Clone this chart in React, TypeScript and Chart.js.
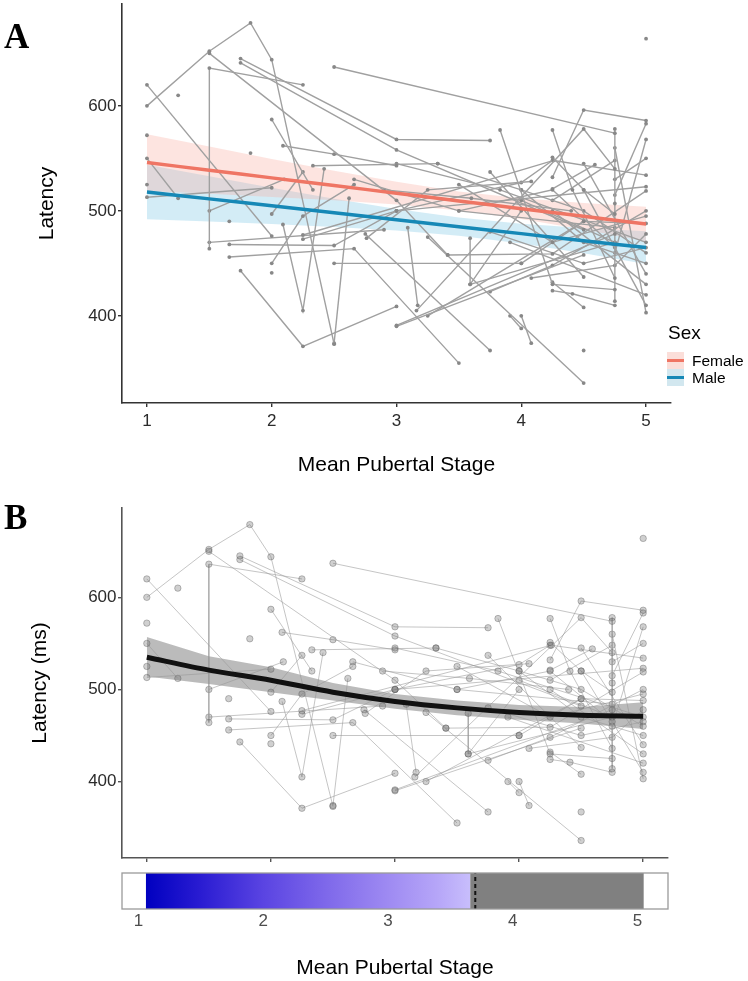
import React, { useEffect, useRef } from "react";
import { Chart, registerables } from "chart.js";

Chart.register(...registerables);

const FONT = "'Liberation Sans', Arial, Helvetica, sans-serif";

// ---- subject trajectories (stage, latency) ----
const subjectStages: number[][] = [
  [1, 2], [1, 1.5, 1.83, 2, 2.5], [2.25, 1.5, 1.5], [1.5, 3, 3.41], [1.75, 3, 3.75],
  [1.75, 3, 4.5], [2.5, 4.75], [4.25, 4.5, 5], [2, 2.33], [2.09, 2.5, 3],
  [1, 2], [1.25], [1.83], [2.33, 3.33], [1],
  [1, 1.25], [1], [1.66], [1.66, 2.5, 3], [1.66, 2.66, 3.5],
  [1.75, 2.25, 3], [2, 2.25], [2, 2.25, 2.66], [2], [2.09, 2.25, 2.42],
  [2.5, 2.62], [2.5, 4], [2.76, 3.25, 4.08], [3, 4.75], [3, 4.5],
  [3.16, 4.5, 4.75], [3.59, 3.59, 4], [3.5, 4.25, 5], [3.83, 4.25, 4.75], [3.75, 4.5],
  [4, 4.5, 5], [4.25, 4.41, 4.75], [4.59, 4.25], [4.25, 4.5, 4.75], [4.75, 4.75, 4.75],
  [5, 4.75], [5, 4.75], [4.25, 4.41, 4.75], [3.25, 4.5], [2.75, 3.75],
  [4, 4.08], [3.91, 4], [3.09, 3.17], [4.5, 4.25], [4.5],
  [5], [2.25, 4.26, 5], [2.25, 3, 5], [3.41, 4.25, 5], [3.75, 4.25, 5],
  [4, 4.5, 5], [4.08, 4.75, 5], [3.59, 4.75], [3, 3.83, 5], [3.33, 4, 4.5, 5],
  [2.66, 3.5, 4.75], [4.5, 5], [4.25, 5], [3.91, 5], [4.5, 5],
  [4.75, 5], [4.75, 4.25], [5, 4.75], [1.5, 2.1], [1.5, 2.9],
  [3, 4, 4.25], [3.5, 4.25, 4.75], [3.25, 4.5], [2.9, 3.6, 4.4], [4, 4.75],
  [3.75, 4.5, 5],
];
const subjectLatencies: number[][] = [
  [620, 476], [600, 652, 679, 644, 373], [620, 636, 464], [650, 510, 458], [645, 568, 567],
  [641, 558, 482], [637, 574], [532, 596, 586], [587, 520], [562, 554, 543],
  [513, 522], [610], [555], [543, 545], [572],
  [550, 512], [525], [490], [468, 467, 500], [456, 464, 355],
  [443, 371, 409], [497, 537], [450, 495, 525], [441], [487, 405, 540],
  [374, 512], [450, 450], [474, 520, 528], [391, 478], [390, 458],
  [405, 578, 540], [474, 430, 500], [525, 470, 495], [577, 430, 425], [537, 437],
  [520, 470, 450], [577, 520, 436], [544, 521], [551, 520, 497], [578, 507, 414],
  [568, 460], [550, 530], [424, 421, 410], [475, 336], [478, 367],
  [400, 374], [400, 388], [484, 410], [408, 432], [367],
  [664], [477, 548, 534], [473, 500, 523], [458, 459, 519], [423, 448, 500],
  [450, 490, 488], [436, 448, 478], [430, 470], [545, 520, 470], [545, 520, 500, 460],
  [530, 500, 484], [545, 440], [500, 430], [470, 420], [520, 410],
  [560, 403], [548, 510], [583, 515], [500, 530], [470, 482],
  [500, 527, 548], [500, 520, 465], [400, 490], [520, 512, 500], [510, 470],
  [480, 450, 465],
];

// ---- axes ----
const stageTicks = [1, 2, 3, 4, 5];
const latencyTicks = [400, 500, 600];
const stageRange = [0.8, 5.2];
const latencyRange = [317, 697];
const stripRange = [0.868, 5.245];

// ---- model fits ----
const fitStages = [1, 1.5, 2, 2.5, 3, 3.5, 4, 4.5, 5];
const femaleFit = [546, 538.7, 531.4, 524.1, 516.8, 509.4, 502.1, 494.8, 487.5];
const femaleUpper = [573, 561.2, 549.5, 538.1, 527.6, 518.5, 511.9, 507.4, 503.9];
const femaleLower = [519, 516.2, 513.3, 510.1, 506, 500.3, 492.3, 482.2, 471.1];
const maleFit = [518, 511.4, 504.8, 498.1, 491.5, 484.9, 478.3, 471.6, 465];
const maleUpper = [544, 532.9, 522.1, 511.5, 501.8, 493.6, 487.6, 483.6, 480.6];
const maleLower = [492, 489.9, 487.5, 484.7, 481.2, 476.2, 469, 459.6, 449.4];
const quadFit = [535, 521, 510, 497, 487, 480, 475, 472, 471];
const quadUpper = [557, 536, 524, 507, 495, 488, 483, 481, 486];
const quadLower = [514, 506, 497, 488, 479, 472, 467, 463, 457];

// ---- significance strip ----
const gradientStages = [1.06, 1.5, 2, 2.5, 3, 3.4, 3.66];
const gradientColors = ["#0000c0", "#2a1cd2", "#5a44e2", "#7e68ea", "#9e8af2", "#b6a6f8", "#c8befc"];
const boundaryStage = 3.7;
const stripEnd = 5.05;

const pts = (xs: number[], ys: number[]) => xs.map((x, i) => ({ x, y: ys[i] }));

type SubjStyle = { line: string; lw: number; r: number; pt: string; ptBorder: string; pbw: number };

const subjectSets = (s: SubjStyle) =>
  subjectStages.map((xs, i) => ({
    data: pts(xs, subjectLatencies[i]),
    borderColor: s.line,
    borderWidth: s.lw,
    pointRadius: s.r,
    pointBackgroundColor: s.pt,
    pointBorderColor: s.ptBorder,
    pointBorderWidth: s.pbw,
    showLine: true,
    tension: 0,
    fill: false,
    order: 1,
  }));

const band = (ys1: number[], ys2: number[], color: string) => [
  { data: pts(fitStages, ys1), borderColor: "transparent", borderWidth: 0, pointRadius: 0, fill: false, order: 3 },
  { data: pts(fitStages, ys2), borderColor: "transparent", borderWidth: 0, pointRadius: 0, fill: "-1", backgroundColor: color, order: 3 },
];

const fitLine = (ys: number[], color: string, w: number) => ({
  data: pts(fitStages, ys), borderColor: color, borderWidth: w, pointRadius: 0, fill: false, tension: 0.3, order: 0,
});

const noOverhang = (ax: any) => {
  ax.paddingTop = 0;
  ax.paddingBottom = 0;
  ax.paddingLeft = 0;
  ax.paddingRight = 0;
};

function makeScales(o: {
  axisColor: string; xHeight: number; showXLabels: boolean; xTitle: string | null; yTitle: string; yTitlePad: number;
}) {
  return {
    x: {
      type: "linear",
      min: stageRange[0],
      max: stageRange[1],
      afterBuildTicks: (ax: any) => { ax.ticks = stageTicks.map((v) => ({ value: v })); },
      afterFit: (ax: any) => { ax.height = o.xHeight; noOverhang(ax); },
      grid: { display: true, drawOnChartArea: false, drawTicks: true, tickLength: 4, color: o.axisColor, lineWidth: 1.4 },
      border: { display: true, color: o.axisColor, width: 1.6 },
      ticks: { display: o.showXLabels, color: "#2b2b2b", font: { family: FONT, size: 17 }, padding: 4, maxRotation: 0 },
      title: o.xTitle
        ? { display: true, text: o.xTitle, color: "#000", font: { family: FONT, size: 21 }, padding: { top: 0, bottom: 12 } }
        : { display: false },
    },
    y: {
      type: "linear",
      min: latencyRange[0],
      max: latencyRange[1],
      afterBuildTicks: (ax: any) => { ax.ticks = latencyTicks.map((v) => ({ value: v })); },
      afterFit: (ax: any) => { ax.width = 122; noOverhang(ax); },
      grid: { display: true, drawOnChartArea: false, drawTicks: true, tickLength: 4, color: o.axisColor, lineWidth: 1.4 },
      border: { display: true, color: o.axisColor, width: 1.6 },
      ticks: { color: "#2b2b2b", font: { family: FONT, size: 17 }, padding: 1.5 },
      title: { display: true, text: o.yTitle, color: "#000", font: { family: FONT, size: 21 }, padding: { top: o.yTitlePad, bottom: 0 } },
    },
  };
}

const stripPlugin = {
  id: "strip",
  beforeDatasetsDraw(chart: any) {
    const { ctx, chartArea: a, scales } = chart;
    const x = scales.x;
    const x0 = x.getPixelForValue(gradientStages[0]);
    const x1 = x.getPixelForValue(gradientStages[gradientStages.length - 1]);
    const g = ctx.createLinearGradient(x0, 0, x1, 0);
    gradientStages.forEach((s, i) => g.addColorStop((x.getPixelForValue(s) - x0) / (x1 - x0), gradientColors[i]));
    ctx.save();
    ctx.fillStyle = g;
    ctx.fillRect(x0, a.top, x1 - x0, a.bottom - a.top);
    ctx.fillStyle = "#808080";
    const xe = x.getPixelForValue(stripEnd);
    ctx.fillRect(x1, a.top, xe - x1, a.bottom - a.top);
    ctx.restore();
  },
  afterDraw(chart: any) {
    const { ctx, chartArea: a } = chart;
    ctx.save();
    ctx.strokeStyle = "#9a9a9a";
    ctx.lineWidth = 1.3;
    ctx.strokeRect(a.left, a.top, a.right - a.left, a.bottom - a.top);
    ctx.restore();
  },
};

export default function App() {
  const refA = useRef<HTMLCanvasElement>(null);
  const refB = useRef<HTMLCanvasElement>(null);
  const refC = useRef<HTMLCanvasElement>(null);

  useEffect(() => {
    document.body.style.margin = "0";
    Chart.defaults.font.family = FONT;

    const chartA = new Chart(refA.current as HTMLCanvasElement, {
      type: "line",
      data: {
        datasets: [
          fitLine(femaleFit, "#ef7564", 3.5),
          fitLine(maleFit, "#1688b6", 3.5),
          ...subjectSets({ line: "#a0a0a0", lw: 1.4, r: 1.9, pt: "#888888", ptBorder: "#888888", pbw: 0 }),
          ...band(femaleUpper, femaleLower, "rgba(250,170,160,0.32)"),
          ...band(maleUpper, maleLower, "rgba(130,200,228,0.35)"),
        ] as any,
      },
      options: {
        responsive: false,
        animation: false,
        events: [],
        layout: { padding: { left: 0, top: 1, right: 77, bottom: 0 } },
        plugins: { legend: { display: false }, tooltip: { enabled: false } },
        scales: makeScales({ axisColor: "#333", xHeight: 87, showXLabels: true, xTitle: "Mean Pubertal Stage", yTitle: "Latency", yTitlePad: 35 }) as any,
      },
    });

    const chartB = new Chart(refB.current as HTMLCanvasElement, {
      type: "line",
      data: {
        datasets: [
          fitLine(quadFit, "#111111", 5),
          ...subjectSets({ line: "rgba(150,150,150,0.55)", lw: 1, r: 3.2, pt: "rgba(110,110,110,0.32)", ptBorder: "rgba(90,90,90,0.38)", pbw: 1 }),
          ...band(quadUpper, quadLower, "rgba(120,120,120,0.5)"),
        ] as any,
      },
      options: {
        responsive: false,
        animation: false,
        events: [],
        layout: { padding: { left: 0, top: 18, right: 80, bottom: 0 } },
        plugins: { legend: { display: false }, tooltip: { enabled: false } },
        scales: makeScales({ axisColor: "#555", xHeight: 7, showXLabels: false, xTitle: null, yTitle: "Latency (ms)", yTitlePad: 28 }) as any,
      },
    });

    const chartC = new Chart(refC.current as HTMLCanvasElement, {
      type: "line",
      data: {
        datasets: [
          {
            data: [{ x: boundaryStage, y: 0 }, { x: boundaryStage, y: 1 }],
            borderColor: "#111",
            borderWidth: 2,
            borderDash: [4, 3],
            pointRadius: 0,
            fill: false,
          },
        ] as any,
      },
      options: {
        responsive: false,
        animation: false,
        events: [],
        layout: { padding: { left: 122, top: 8, right: 80, bottom: 0 } },
        plugins: { legend: { display: false }, tooltip: { enabled: false } },
        scales: {
          x: {
            type: "linear",
            min: stripRange[0],
            max: stripRange[1],
            afterBuildTicks: (ax: any) => { ax.ticks = stageTicks.map((v) => ({ value: v })); },
            afterFit: (ax: any) => { ax.height = 72; noOverhang(ax); },
            grid: { display: false, drawTicks: false },
            border: { display: false },
            ticks: { color: "#4d4d4d", font: { family: FONT, size: 17 }, padding: 2, maxRotation: 0 },
            title: { display: true, text: "Mean Pubertal Stage", color: "#000", font: { family: FONT, size: 21 }, padding: { top: 0, bottom: 0 } },
          },
          y: { type: "linear", min: 0, max: 1, display: false },
        } as any,
      },
      plugins: [stripPlugin],
    });

    return () => {
      chartA.destroy();
      chartB.destroy();
      chartC.destroy();
    };
  }, []);

  const panelLetter = (top: number): React.CSSProperties => ({
    position: "absolute", left: 4, top, fontFamily: "'Liberation Serif', 'Times New Roman', serif",
    fontWeight: "bold", fontSize: 35, lineHeight: "35px", color: "#000",
  });
  const legendText: React.CSSProperties = {
    position: "absolute", left: 692, fontFamily: FONT, fontSize: 15.5, lineHeight: "17px", color: "#000",
  };

  return (
    <div style={{ position: "absolute", left: 0, top: 0, width: 748, height: 981, background: "#fff" }}>
      <canvas ref={refA} width={748} height={490} style={{ position: "absolute", left: 0, top: 0 }} />
      <canvas ref={refB} width={748} height={375} style={{ position: "absolute", left: 0, top: 490 }} />
      <canvas ref={refC} width={748} height={116} style={{ position: "absolute", left: 0, top: 865 }} />
      <div style={panelLetter(19)}>A</div>
      <div style={panelLetter(500)}>B</div>
      <div style={{ position: "absolute", left: 668, top: 323, fontFamily: FONT, fontSize: 19, lineHeight: "20px", color: "#000" }}>Sex</div>
      <div style={{ position: "absolute", left: 667, top: 352, width: 17, height: 17, background: "rgba(248,200,192,0.6)" }}>
        <div style={{ position: "absolute", left: 0, top: 7, width: 17, height: 3, background: "#ef7564" }} />
      </div>
      <div style={{ position: "absolute", left: 667, top: 369, width: 17, height: 17, background: "rgba(180,215,228,0.6)" }}>
        <div style={{ position: "absolute", left: 0, top: 7, width: 17, height: 3, background: "#1688b6" }} />
      </div>
      <div style={{ ...legendText, top: 352 }}>Female</div>
      <div style={{ ...legendText, top: 369 }}>Male</div>
    </div>
  );
}
